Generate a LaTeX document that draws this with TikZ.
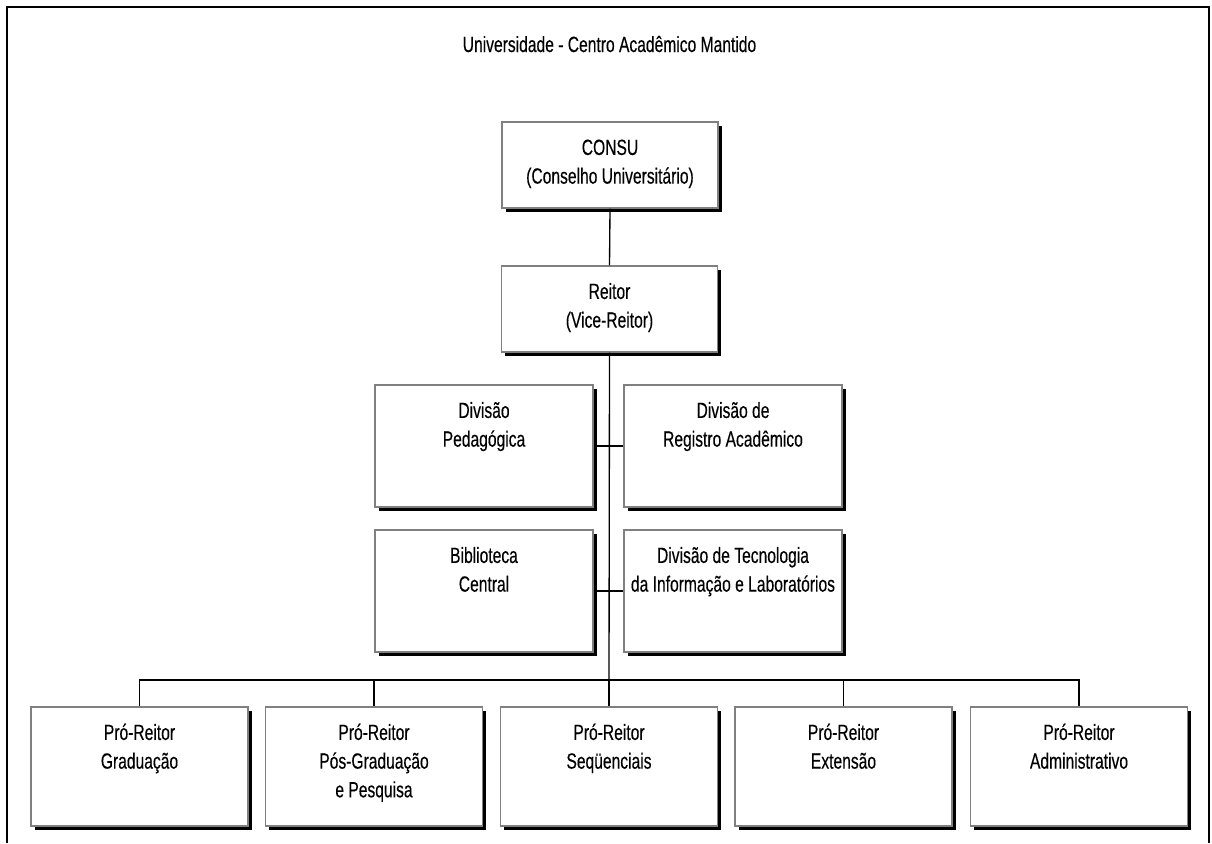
\documentclass[tikz,border=0pt]{standalone}
\usepackage{fontspec}
\setmainfont{Liberation Sans}[FakeStretch=0.71,FakeBold=0.3]
\usetikzlibrary{shadows}
\begin{document}
\begin{tikzpicture}[x=0.75pt,y=-0.75pt,
  orgbox/.style={draw=black!50, line width=1.1pt, fill=white, inner sep=0pt,
    drop shadow={shadow xshift=2.8pt, shadow yshift=-2.8pt, fill=black, opacity=1}},
  topbox/.style={orgbox, minimum width=162pt, minimum height=64.5pt},
  divbox/.style={orgbox, minimum width=163.5pt, minimum height=91.5pt},
  probox/.style={orgbox, minimum width=162.75pt, minimum height=89.25pt},
  orgfont/.style={font=\fontsize{16.5pt}{21.5pt}\selectfont},
  orgtext/.style={orgfont, anchor=north, align=center, inner sep=0pt},
  txtshift/.style={yshift=-10pt},
  link/.style={draw=black, line width=1pt},
  frame/.style={draw=black, line width=1.6pt}]

\useasboundingbox (0,0) rectangle (1212,843);

% open outer frame
\draw[frame] (7,843) -- (7,7) -- (1209,7) -- (1209,843);

\node[orgfont, anchor=base, inner sep=0pt] (title) at (609.5,52) {Universidade - Centro Acadêmico Mantido};

% boxes
\node[topbox] (consu)  at (610,165) {};
\node[topbox] (reitor) at (609.5,309) {};
\node[divbox] (divped) at (484,446) {};
\node[divbox] (divreg) at (733,446) {};
\node[divbox] (bib)    at (484,591) {};
\node[divbox] (tec)    at (733,591) {};
\node[probox] (pr1) at (139.5,766.5) {};
\node[probox] (pr2) at (374,766.5) {};
\node[probox] (pr3) at (609,766.5) {};
\node[probox] (pr4) at (843.5,766.5) {};
\node[probox] (pr5) at (1079,766.5) {};

% box texts
\node[orgtext] (consu-t)  at ([txtshift]consu.north)  {\strut CONSU\\(Conselho Universitário)};
\node[orgtext] (reitor-t) at ([txtshift]reitor.north) {\strut Reitor\\(Vice-Reitor)};
\node[orgtext] (divped-t) at ([txtshift]divped.north) {\strut Divisão\\Pedagógica};
\node[orgtext] (divreg-t) at ([txtshift]divreg.north) {\strut Divisão de\\Registro Acadêmico};
\node[orgtext] (bib-t)    at ([txtshift]bib.north)    {\strut Biblioteca\\Central};
\node[orgtext] (tec-t)    at ([txtshift]tec.north)    {\strut Divisão de Tecnologia\\da Informação e Laboratórios};
\node[orgtext] (pr1-t) at ([txtshift]pr1.north) {\strut Pró-Reitor\\Graduação};
\node[orgtext] (pr2-t) at ([txtshift]pr2.north) {\strut Pró-Reitor\\Pós-Graduação\\e Pesquisa};
\node[orgtext] (pr3-t) at ([txtshift]pr3.north) {\strut Pró-Reitor\\Seqüenciais};
\node[orgtext] (pr4-t) at ([txtshift]pr4.north) {\strut Pró-Reitor\\Extensão};
\node[orgtext] (pr5-t) at ([txtshift]pr5.north) {\strut Pró-Reitor\\Administrativo};

% connectors
\coordinate (bus) at (609,680);
\draw[link] (consu.south) -- (reitor.north);
\draw[link] (reitor.south) -- (bus);
\draw[link] (divped.east) -- (divreg.west);
\draw[link] (bib.east) -- (tec.west);
\foreach \p in {pr1,pr2,pr3,pr4,pr5}
  \draw[link] (bus) -| (\p.north);
\end{tikzpicture}
\end{document}
